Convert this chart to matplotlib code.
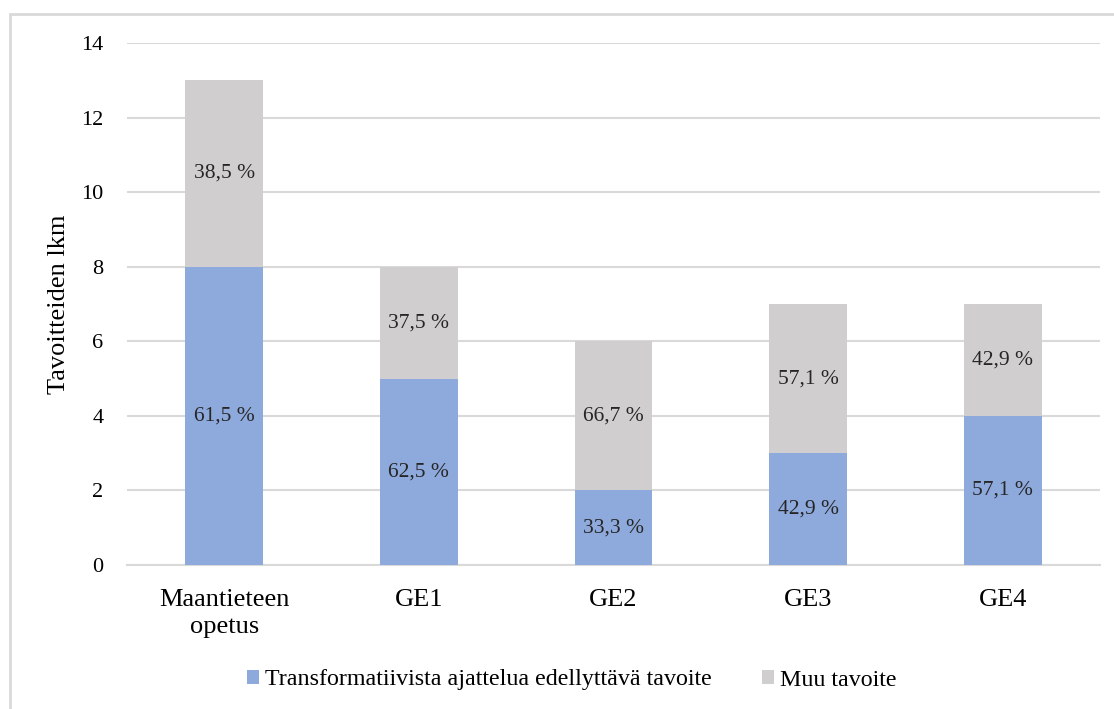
import matplotlib.pyplot as plt
import numpy as np
from matplotlib.patches import Rectangle

categories = ["Maantieteen\nopetus", "GE1", "GE2", "GE3", "GE4"]
transformative = [8, 5, 2, 3, 4]
other = [5, 3, 4, 4, 3]
pct_transformative = ["61,5 %", "62,5 %", "33,3 %", "42,9 %", "57,1 %"]
pct_other = ["38,5 %", "37,5 %", "66,7 %", "57,1 %", "42,9 %"]

blue = "#8EA9DB"
grey = "#D0CECE"

plt.rcParams['font.family'] = ['Liberation Serif', 'DejaVu Serif']

fig = plt.figure(figsize=(11.14, 7.09), dpi=100)
ax = fig.add_axes([127 / 1114, 1 - 565 / 709, (1100 - 127) / 1114, (565 - 43) / 709])

x = np.arange(len(categories))
w = 0.4
ax.bar(x, transformative, w, color=blue, zorder=3,
       label="Transformatiivista ajattelua edellyttävä tavoite")
ax.bar(x, other, w, bottom=transformative, color=grey, zorder=3,
       label="Muu tavoite")

for i in range(len(categories)):
    ax.text(x[i], transformative[i] / 2, pct_transformative[i],
            ha="center", va="center", fontsize=15.5, color="#262626", zorder=4)
    ax.text(x[i], transformative[i] + other[i] / 2, pct_other[i],
            ha="center", va="center", fontsize=15.5, color="#262626", zorder=4)

ax.set_xlim(-0.5, len(categories) - 0.5)
ax.set_ylim(0, 14)
ax.set_yticks(range(0, 15, 2))
ax.set_xticks(x)
ax.set_xticklabels(categories, fontsize=19, linespacing=1.3)
ax.tick_params(axis="y", labelsize=16, length=0, pad=17)
ax.tick_params(axis="x", length=0, pad=17)
ax.grid(axis="y", color="#D9D9D9", linewidth=1.5, zorder=0)
for s in ["top", "right", "left"]:
    ax.spines[s].set_visible(False)
ax.spines["bottom"].set_color("#D9D9D9")
ax.spines["bottom"].set_linewidth(1.5)
ax.set_ylabel("Tavoitteiden lkm", fontsize=19, labelpad=8)

fig.legend(loc="center", bbox_to_anchor=(572 / 1114, 1 - 680 / 709), ncol=2,
           frameon=False, fontsize=17.3, handlelength=0.5, handleheight=0.5,
           columnspacing=2.1, handletextpad=0.25)

# light frame around the chart area
fig.patches.append(Rectangle((10 / 1114, -0.05), 1.1, 1 - 14 / 709 + 0.05,
                             transform=fig.transFigure, fill=False,
                             edgecolor="#D9D9D9", linewidth=2))

fig.savefig("out.png", dpi=100)
